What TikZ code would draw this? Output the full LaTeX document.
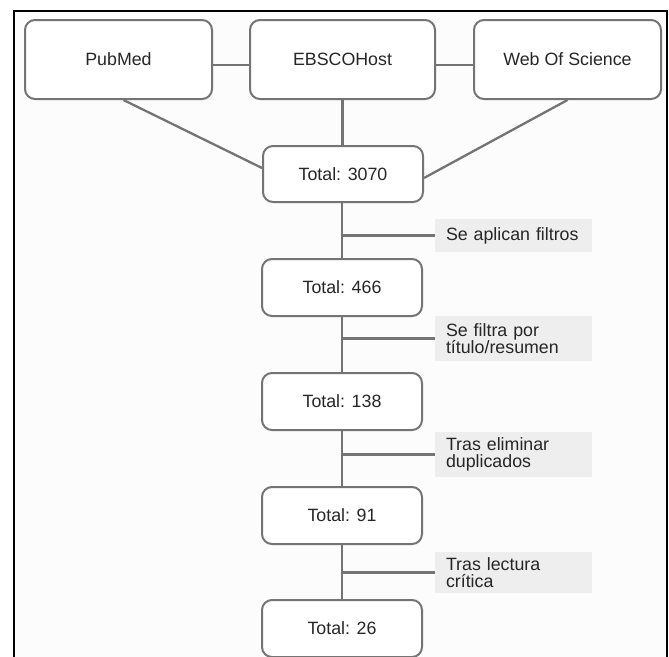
\documentclass[tikz,border=0pt]{standalone}
\usepackage{fontspec}
\setmainfont{Liberation Sans}
\definecolor{boxline}{HTML}{747474}
\definecolor{labelfill}{HTML}{EEEEEE}
\definecolor{bgfill}{HTML}{FCFCFC}
\tikzset{
  every node/.style={font=\fontsize{17.8}{17.5}\selectfont, text=black!85},
  dbbox/.style={draw=boxline, line width=2pt, rounded corners=10pt, fill=white,
    minimum width=187pt, minimum height=79pt, inner sep=0pt},
  totbox/.style={draw=boxline, line width=2pt, rounded corners=10pt, fill=white,
    minimum width=160pt, minimum height=57pt, inner sep=0pt},
  stepnote/.style={fill=labelfill, draw=none, text width=135pt, align=left,
    inner xsep=11pt, inner ysep=0pt, minimum height=#1},
  conn/.style={draw=boxline, line width=2.3pt}
}
\begin{document}
\begin{tikzpicture}[x=1pt, y=-1pt]
\useasboundingbox (0,0) rectangle (669,656);
\clip (0,0) rectangle (669,656);
\fill[white] (0,0) rectangle (669,656);
\filldraw[fill=bgfill, draw=black, line width=2pt] (14,11) rectangle (667,680);

\node[dbbox] (pub) at (118.5,59.5) {PubMed};
\node[dbbox, minimum width=185pt] (ebs) at (342.5,59.5) {EBSCOHost};
\node[dbbox] (wos) at (567.5,59.5) {Web Of Science};

\node[totbox, minimum height=56pt] (t3070) at (343,174) {Total: 3070};
\node[totbox] (t466) at (342,287.5) {Total: 466};
\node[totbox] (t138) at (342,401.5) {Total: 138};
\node[totbox] (t91) at (342,515.5) {Total: 91};
\node[totbox] (t26) at (342,628.5) {Total: 26};

\node[stepnote=33pt] (f1) at (513.5,235.5) {Se aplican filtros};
\node[stepnote=45pt] (f2) at (513.5,338.5) {Se filtra por\\título/resumen};
\node[stepnote=45pt] (f3) at (513.5,454.5) {Tras eliminar\\duplicados};
\node[stepnote=41pt] (f4) at (513.5,572.5) {Tras lectura\\crítica};

\draw[conn] ([yshift=-5.5pt]pub.east) -- ([yshift=-5.5pt]ebs.west);
\draw[conn] ([yshift=-5.5pt]ebs.east) -- ([yshift=-5.5pt]wos.west);
\draw[conn] (ebs.south) -- (ebs.south |- t3070.north);
\draw[conn] ([xshift=5pt]pub.south) -- ([yshift=6pt]t3070.west);
\draw[conn] (wos.south) -- ([yshift=-4pt]t3070.east);
\draw[conn] (t3070.south -| t466.north) -- (t466.north);
\draw[conn] (t466.south) -- (t138.north);
\draw[conn] (t138.south) -- (t91.north);
\draw[conn] (t91.south) -- (t26.north);
\draw[conn] (f1.west) -- (f1.west -| t466.north);
\draw[conn] (f2.west) -- (f2.west -| t466.north);
\draw[conn] (f3.west) -- (f3.west -| t466.north);
\draw[conn] (f4.west) -- (f4.west -| t466.north);
\end{tikzpicture}
\end{document}
